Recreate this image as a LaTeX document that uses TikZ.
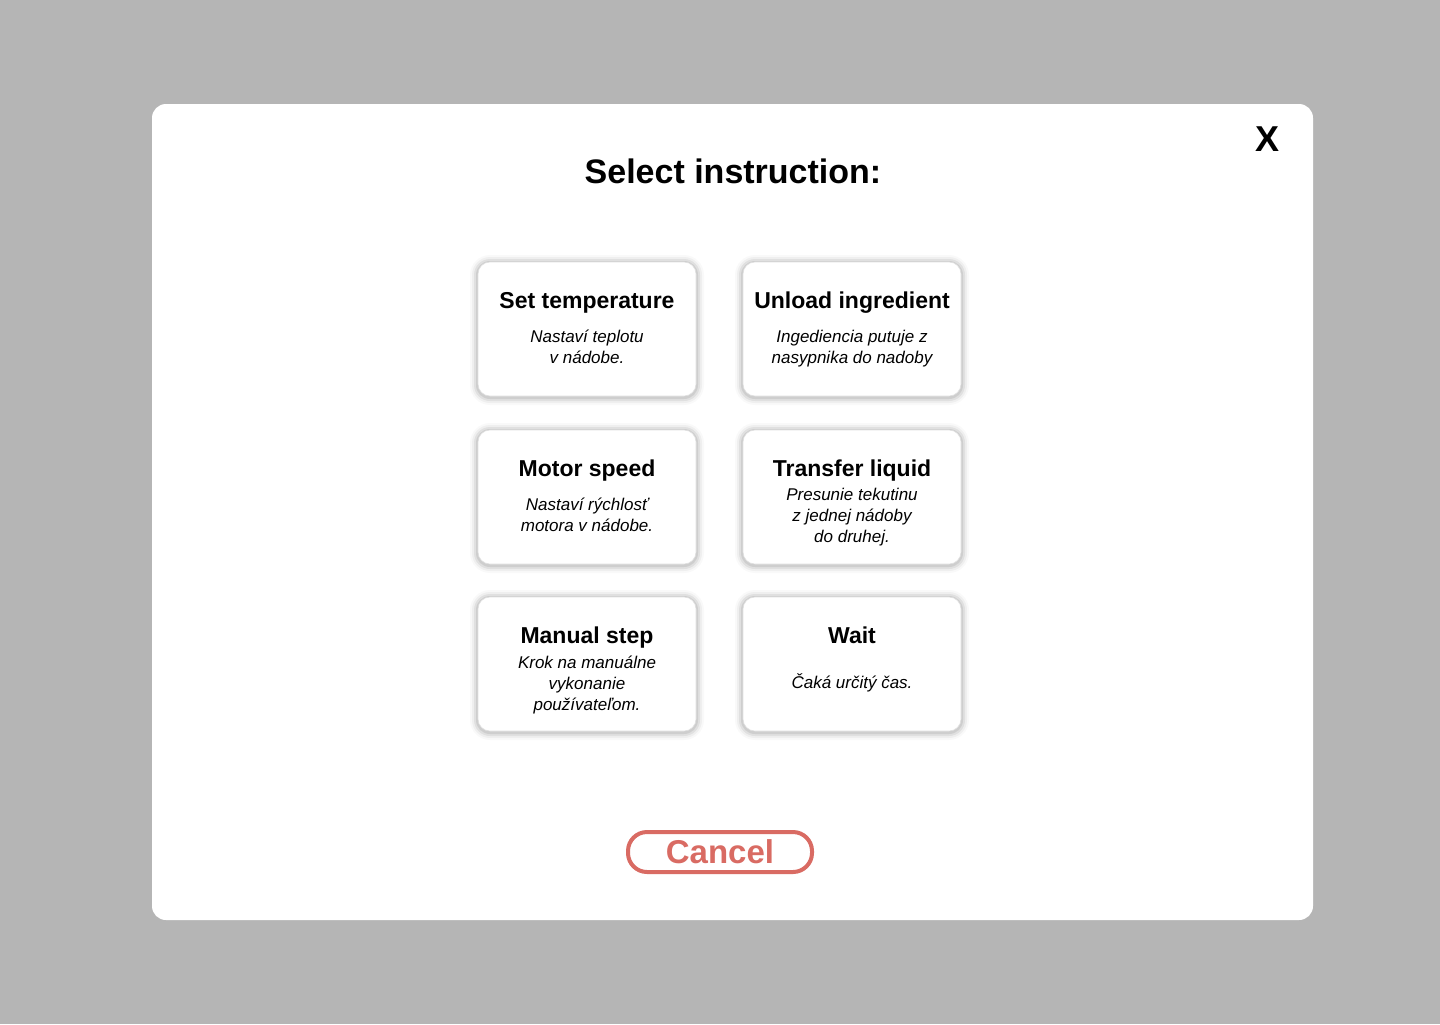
\documentclass[tikz,border=0pt]{standalone}
\usepackage{fontspec}
\setmainfont{Liberation Sans}
\definecolor{bggray}{HTML}{B5B5B5}
\definecolor{cancelred}{HTML}{D96B63}
\tikzset{
  cardbox/.style={fill=white, rounded corners=12bp, draw=black!12, line width=0.6bp},
  cardtitle/.style={font=\fontsize{23bp}{27bp}\selectfont\bfseries, inner sep=0, anchor=center},
  cardsub/.style={font=\fontsize{17bp}{21bp}\selectfont\itshape, inner sep=0, align=center, anchor=north},
}
\newcommand{\mycard}[1]{%
  \foreach \i/\o in {8/0.025,6/0.04,4/0.06,2/0.08}{
    \fill[black, opacity=\o, rounded corners=12bp+\i bp]
      ($(#1)+(-109-\i,-67-\i+1)$) rectangle ($(#1)+(109+\i,67+\i+1)$);
  }
  \path[cardbox] ($(#1)+(-109,-67)$) rectangle ($(#1)+(109,67)$);
}
\usetikzlibrary{calc}
\begin{document}
\begin{tikzpicture}[x=1bp,y=-1bp]
\fill[bggray] (0,0) rectangle (1440,1024);
\useasboundingbox (0,0) rectangle (1440,1024);
\fill[white, rounded corners=14bp] (152,104) rectangle (1313,920);
\node[font=\fontsize{34bp}{40bp}\selectfont\bfseries, inner sep=0] (title) at (733,171) {Select instruction:};
\node[font=\fontsize{36bp}{40bp}\selectfont\bfseries, inner sep=0] (close) at (1267,139) {X};
% cards
\coordinate (c1) at (587,329);
\coordinate (c2) at (852,329);
\coordinate (c3) at (587,497);
\coordinate (c4) at (852,497);
\coordinate (c5) at (587,664);
\coordinate (c6) at (852,664);
\mycard{c1}
\mycard{c2}
\mycard{c3}
\mycard{c4}
\mycard{c5}
\mycard{c6}
\node[cardtitle] (t1) at (587,303) {Set temperature};
\node[cardsub] (s1) at (587,330) {Nastaví teplotu\\v nádobe.};
\node[cardtitle] (t2) at (852,303) {Unload ingredient};
\node[cardsub] (s2) at (852,330) {Ingediencia putuje z\\nasypnika do nadoby};
\node[cardtitle] (t3) at (587,471) {Motor speed};
\node[cardsub] (s3) at (587,498) {Nastaví rýchlosť\\motora v nádobe.};
\node[cardtitle] (t4) at (852,471) {Transfer liquid};
\node[cardsub] (s4) at (852,488) {Presunie tekutinu\\z jednej nádoby\\do druhej.};
\node[cardtitle] (t5) at (587,638) {Manual step};
\node[cardsub] (s5) at (587,656) {Krok na manuálne\\vykonanie\\používateľom.};
\node[cardtitle] (t6) at (852,635) {Wait};
\node[cardsub] (s6) at (852,673) {Čaká určitý čas.};
% cancel
\draw[cancelred, line width=4bp, rounded corners=19bp] (628,832) rectangle (812,872);
\node[font=\fontsize{33bp}{38bp}\selectfont\bfseries, text=cancelred, inner sep=0] (cancel) at (720,852) {Cancel};
\end{tikzpicture}
\end{document}
